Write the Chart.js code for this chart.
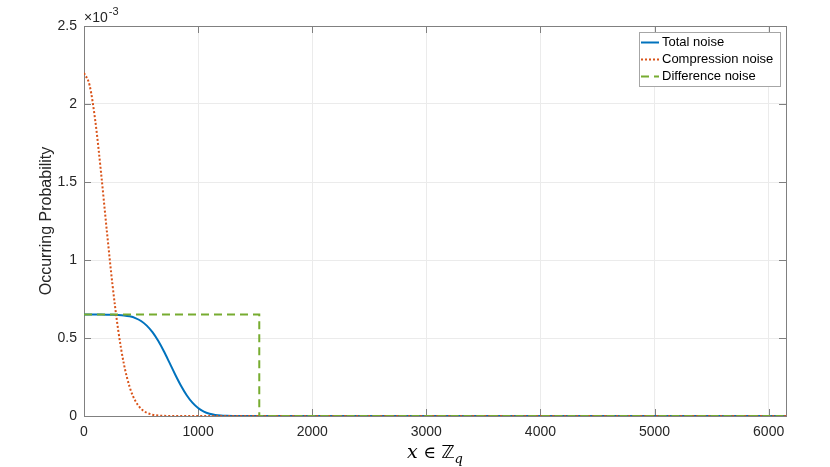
<!DOCTYPE html>
<html>
<head>
<meta charset="utf-8">
<script src="https://cdn.jsdelivr.net/npm/chart.js@4.4.0/dist/chart.umd.min.js"></script>
<style>
  body { margin: 0; background: #fff; }
  #wrap { width: 830px; height: 467px; }
</style>
</head>
<body>
<div id="wrap"><canvas id="chart" width="830" height="467"></canvas></div>
<script>
// values in units of 1e-3
var xs = [0, 50, 100, 150, 200, 250, 300, 350, 400, 450, 500, 550, 600, 650, 700,
  750, 800, 850, 900, 950, 1000, 1050, 1100, 1150, 1200, 1250, 1300, 1350, 1400, 6152];
var totalNoise = [0.65, 0.65, 0.65, 0.65, 0.6497, 0.6491, 0.6478, 0.6449, 0.6389, 0.6278,
  0.609, 0.5795, 0.5374, 0.4818, 0.4147, 0.3403, 0.2646, 0.194, 0.1333, 0.0857,
  0.0514, 0.0286, 0.0148, 0.0071, 0.0031, 0.0013, 0.0005, 0.0002, 0, 0];
var compressionNoise = [2.2, 2.117, 1.886, 1.555, 1.187, 0.839, 0.549, 0.332, 0.186, 0.0967,
  0.0464, 0.0207, 0.0085, 0.0032, 0.0011, 0.0004, 0.0001, 0, 0, 0,
  0, 0, 0, 0, 0, 0, 0, 0, 0, 0];
var diffX = [0, 1536, 1536, 6152];
var diffNoise = [0.6506, 0.6506, 0, 0];
var xTicks = [0, 1000, 2000, 3000, 4000, 5000, 6000];
var yTicks = [0, 0.5, 1, 1.5, 2, 2.5];
var labels = ['Total noise', 'Compression noise', 'Difference noise'];

function pts(x, y) {
  return x.map(function (v, i) { return { x: v, y: y[i] }; });
}

var axisColor = '#808080';

var matlabAxes = {
  id: 'matlabAxes',
  beforeDatasetsDraw: function (chart) {
    var c = chart.ctx, a = chart.chartArea;
    var xs_ = chart.scales.x, ys_ = chart.scales.y;
    c.save();
    c.strokeStyle = axisColor;
    c.lineWidth = 1;
    c.beginPath();
    xTicks.forEach(function (t) {
      var px = Math.round(xs_.getPixelForValue(t)) + 0.5;
      c.moveTo(px, a.bottom); c.lineTo(px, a.bottom - 7);
      c.moveTo(px, a.top); c.lineTo(px, a.top + 7);
    });
    yTicks.forEach(function (t) {
      var py = Math.round(ys_.getPixelForValue(t)) + 0.5;
      c.moveTo(a.left, py); c.lineTo(a.left + 7, py);
      c.moveTo(a.right, py); c.lineTo(a.right - 7, py);
    });
    c.stroke();
    c.strokeRect(Math.round(a.left) + 0.5, Math.round(a.top) + 0.5,
      Math.round(a.right - a.left), Math.round(a.bottom - a.top));
    c.restore();
  },
  afterDraw: function (chart) {
    var c = chart.ctx, a = chart.chartArea;
    c.save();
    // exponent
    c.fillStyle = '#262626';
    c.textBaseline = 'alphabetic';
    c.textAlign = 'left';
    c.font = '14px "Liberation Sans", Arial, sans-serif';
    c.fillText('\u00d710', a.left, 22);
    var w = c.measureText('\u00d710').width;
    c.font = '11px "Liberation Sans", Arial, sans-serif';
    c.fillText('-3', a.left + w + 1, 15);

    // y title
    c.save();
    c.translate(47, (a.top + a.bottom) / 2);
    c.rotate(-Math.PI / 2);
    c.textAlign = 'center';
    c.textBaseline = 'middle';
    c.font = '16px "Liberation Sans", Arial, sans-serif';
    c.fillText('Occurring Probability', 0, 0);
    c.restore();

    // x title
    var cx = (a.left + a.right) / 2, by = 458;
    var parts = [
      { t: 'x', f: 'italic 19px "DejaVu Serif", serif', dy: 0 },
      { t: ' \u2208 ', f: '17px "DejaVu Serif", serif', dy: 0 },
      { t: '\u2124', f: '18px "DejaVu Sans", sans-serif', dy: 0 },
      { t: 'q', f: 'italic 13px "DejaVu Serif", serif', dy: 5 }
    ];
    var total = 0;
    parts.forEach(function (p) { c.font = p.f; p.w = c.measureText(p.t).width; total += p.w; });
    var px = cx - total / 2;
    c.fillStyle = '#000';
    parts.forEach(function (p) { c.font = p.f; c.fillText(p.t, px, by + p.dy); px += p.w; });

    // legend
    var lx = 639, ly = 32, lw = 141, lh = 54;
    c.fillStyle = '#fff';
    c.fillRect(lx, ly, lw, lh);
    c.strokeStyle = '#a6a6a6';
    c.lineWidth = 1;
    c.strokeRect(lx + 0.5, ly + 0.5, lw, lh);
    c.font = '13px "Liberation Sans", Arial, sans-serif';
    c.textBaseline = 'middle';
    chart.data.datasets.forEach(function (ds, i) {
      var y = 42.5 + i * 17;
      c.strokeStyle = ds.borderColor;
      c.lineWidth = 2;
      c.setLineDash(ds.borderDash || []);
      c.beginPath(); c.moveTo(641, y); c.lineTo(659, y); c.stroke();
      c.setLineDash([]);
      c.fillStyle = '#000';
      c.fillText(ds.label, 662, y);
    });
    c.restore();
  }
};

new Chart(document.getElementById('chart'), {
  type: 'line',
  data: {
    datasets: [
      {
        label: labels[0],
        data: pts(xs, totalNoise),
        borderColor: '#0072BD',
        borderWidth: 2,
        cubicInterpolationMode: 'monotone',
        order: 2
      },
      {
        label: labels[1],
        data: pts(xs, compressionNoise),
        borderColor: '#D95319',
        borderWidth: 2,
        borderDash: [2, 2],
        cubicInterpolationMode: 'monotone',
        order: 1
      },
      {
        label: labels[2],
        data: pts(diffX, diffNoise),
        borderColor: '#77AC30',
        borderWidth: 2,
        borderDash: [8, 5],
        tension: 0,
        order: 0
      }
    ]
  },
  options: {
    responsive: false,
    animation: false,
    elements: { point: { radius: 0 } },
    layout: { padding: { top: 26, right: 44, left: 0, bottom: 0 } },
    plugins: { legend: { display: false }, tooltip: { enabled: false } },
    scales: {
      x: {
        type: 'linear',
        min: 0,
        max: 6152,
        afterFit: function (s) { s.height = 51; },
        afterBuildTicks: function (s) { s.ticks = xTicks.map(function (v) { return { value: v }; }); },
        grid: { color: '#ebebeb', drawTicks: false },
        border: { display: false },
        ticks: {
          padding: 8,
          color: '#262626',
          font: { family: '"Liberation Sans", Arial, sans-serif', size: 14 },
          maxRotation: 0,
          callback: function (v) { return String(v); }
        }
      },
      y: {
        min: 0,
        max: 2.5,
        afterFit: function (s) { s.width = 84; },
        afterBuildTicks: function (s) { s.ticks = yTicks.map(function (v) { return { value: v }; }); },
        grid: { color: '#ebebeb', drawTicks: false },
        border: { display: false },
        ticks: {
          padding: 7,
          color: '#262626',
          font: { family: '"Liberation Sans", Arial, sans-serif', size: 14 },
          callback: function (v) { return String(v); }
        }
      }
    }
  },
  plugins: [matlabAxes]
});
</script>
</body>
</html>
